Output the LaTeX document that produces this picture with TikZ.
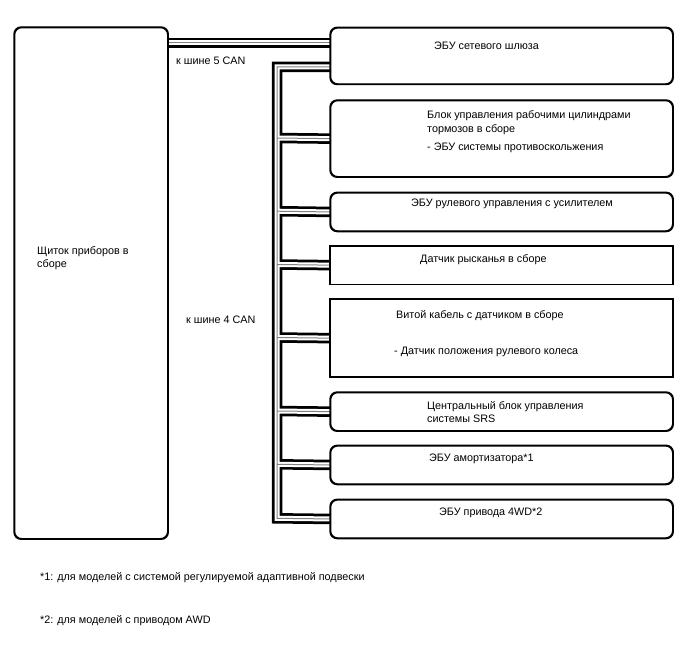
\documentclass[tikz,border=0pt]{standalone}
\usepackage{fontspec}
\setmainfont{Liberation Sans}
\begin{document}
\begin{tikzpicture}[x=1pt,y=-1pt,
  box/.style={draw,line width=1.3pt,rounded corners=7pt,anchor=north west,inner sep=0pt},
  sqbox/.style={draw,line width=1.3pt,anchor=north west,inner sep=0pt},
  lbl/.style={anchor=west,inner sep=0pt,text height=8.5pt,text depth=1.5pt,font=\fontsize{10.8}{13}\selectfont},
  busblack/.style={line width=10.5pt,black},
  buswhite/.style={line width=5pt,white},
  busgray/.style={line width=1pt,black!50}]
\useasboundingbox (0,0) rectangle (688,658);
% boxes
\node[box,minimum width=153pt,minimum height=511pt] (meter) at (14,27) {};
\node[box,minimum width=342pt,minimum height=56pt] (b1) at (330,27.3) {};
\node[box,minimum width=342pt,minimum height=76pt] (b2) at (330,100) {};
\node[box,minimum width=342pt,minimum height=38pt] (b3) at (330,192.3) {};
\node[sqbox,minimum width=342pt,minimum height=38pt] (b4) at (330,245.5) {};
\node[sqbox,minimum width=342pt,minimum height=77pt] (b5) at (330,299) {};
\node[box,minimum width=342pt,minimum height=38pt] (b6) at (330,392) {};
\node[box,minimum width=342pt,minimum height=38pt] (b7) at (330,445.3) {};
\node[box,minimum width=342pt,minimum height=38pt] (b8) at (330,499.3) {};
% bus coordinates
\coordinate (c5a) at (meter.east |- 0,43);
\coordinate (c5b) at (b1.west |- 0,43);
\coordinate (g) at (b1.west |- 0,67);
\coordinate (tt) at (277,67);
\coordinate (tb) at (277,518.3);
\coordinate (t2) at (277,138);
\coordinate (t3) at (277,211.2);
\coordinate (t4) at (277,264.5);
\coordinate (t5) at (277,337.5);
\coordinate (t6) at (277,411);
\coordinate (t7) at (277,464.3);
% buses: three passes
\foreach \s in {busblack,buswhite,busgray}{
  \draw[\s] (c5a) -- (c5b);
  \draw[\s] (g) -- (tt) -- (tb) -- (b8.west);
  \draw[\s] (t2) -- (b2.west);
  \draw[\s] (t3) -- (b3.west);
  \draw[\s] (t4) -- (b4.west);
  \draw[\s] (t5) -- (b5.west);
  \draw[\s] (t6) -- (b6.west);
  \draw[\s] (t7) -- (b7.west);
}
% redraw box borders on top
\foreach \b in {b1,b2,b3,b6,b7,b8}{
  \draw[line width=1.3pt,rounded corners=7pt] (\b.north west) rectangle (\b.south east);
}
\foreach \b in {b4,b5}{
  \draw[line width=1.3pt] (\b.north west) rectangle (\b.south east);
}
\draw[line width=1.3pt,rounded corners=7pt] (meter.north west) rectangle (meter.south east);
% texts
\node[lbl] (m1) at (37,250.7) {Щиток приборов в};
\node[lbl] (m2) at (37,264) {сборе};
\node[lbl] (can5) at (176,61) {к шине 5 CAN};
\node[lbl] (can4) at (186,320) {к шине 4 CAN};
\node[lbl] (t1a) at (434,46.5) {ЭБУ сетевого шлюза};
\node[lbl] (t2a) at (427,115) {Блок управления рабочими цилиндрами};
\node[lbl] (t2b) at (427,128.7) {тормозов в сборе};
\node[lbl] (t2c) at (427,146.7) {- ЭБУ системы противоскольжения};
\node[lbl] (t3a) at (411,202.5) {ЭБУ рулевого управления с усилителем};
\node[lbl] (t4a) at (420,258.5) {Датчик рысканья в сборе};
\node[lbl] (t5a) at (396,315) {Витой кабель с датчиком в сборе};
\node[lbl] (t5b) at (394,351) {- Датчик положения рулевого колеса};
\node[lbl] (t6a) at (427,406) {Центральный блок управления};
\node[lbl] (t6b) at (427,419) {системы SRS};
\node[lbl] (t7a) at (429,458) {ЭБУ амортизатора*1};
\node[lbl] (t8a) at (439,512) {ЭБУ привода 4WD*2};
\node[lbl] (f1) at (40,576.5) {*1: для моделей с системой регулируемой адаптивной подвески};
\node[lbl] (f2) at (40,619.5) {*2: для моделей с приводом AWD};
\end{tikzpicture}
\end{document}
